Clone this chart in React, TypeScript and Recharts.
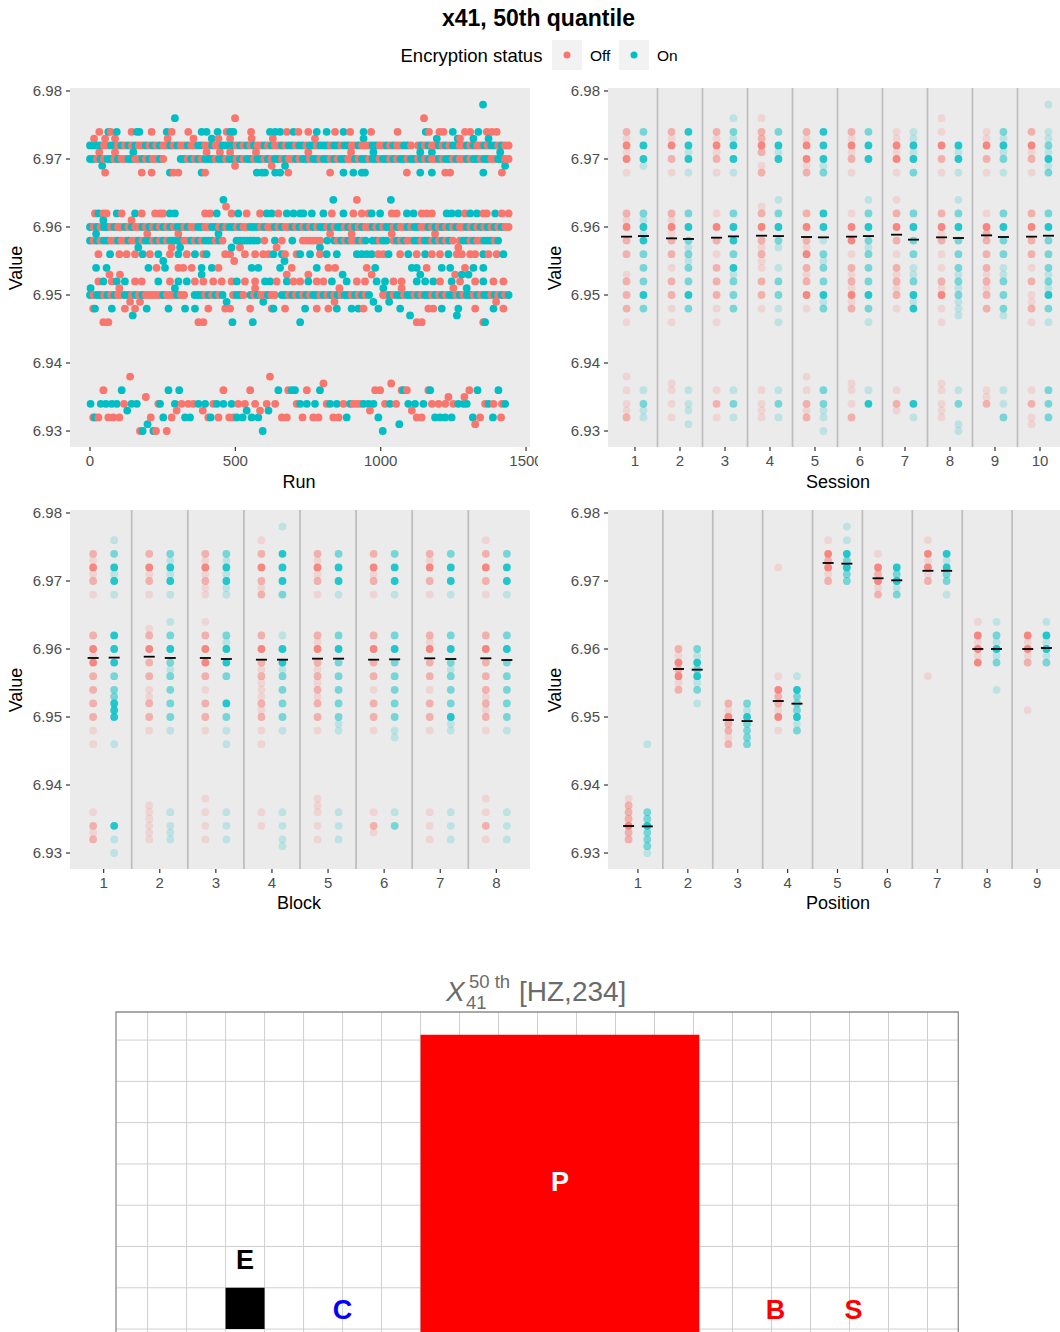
import React from 'react';
import { ScatterChart, Scatter, XAxis, YAxis, CartesianGrid, ReferenceLine, ReferenceArea } from 'recharts';

const RED = '#F8766D';
const TEAL = '#00BFC4';
const FONT = '"Liberation Sans", Arial, Helvetica, sans-serif';

// ---------------- Common axis settings ----------------
const Y_DOMAIN: [number, number] = [6.92765, 6.98044];
const Y_TICKS = [6.93, 6.94, 6.95, 6.96, 6.97, 6.98];
const RUN_TICKS = [0, 500, 1000, 1500];
const RUN_DOMAIN: [number, number] = [-68.8, 1513.6];
const SESSION_TICKS = [1, 2, 3, 4, 5, 6, 7, 8, 9, 10];
const BLOCK_TICKS = [1, 2, 3, 4, 5, 6, 7, 8];
const POSITION_TICKS = [1, 2, 3, 4, 5, 6, 7, 8, 9];

// ---------------- Run panel data ----------------
// sparse rows: [value, runs with encryption Off, runs with encryption On]
const RUN_SPARSE: [number, number[], number[]][] = [
  [6.978, [], [1352]],
  [6.976, [499, 1149], [292]],
  [6.974, [32, 71, 143, 212, 281, 338, 470, 554, 677, 717, 751, 843, 895, 967, 1058, 1166, 1202, 1216, 1290, 1308, 1365, 1382, 1399],
    [63, 92, 161, 170, 264, 384, 401, 439, 482, 493, 619, 637, 654, 700, 780, 814, 872, 941, 1155, 1248, 1336]],
  [6.973, [14, 52, 86, 267, 356, 442, 482, 556, 629, 774, 1273], [419, 941, 1193, 1265, 1319, 1371]],
  [6.971, [32, 86, 401, 447, 482, 571, 751, 898], [149, 975, 1136, 1176, 1411]],
  [6.969, [499, 625], [42, 671, 1428]],
  [6.968, [52, 178, 212, 287, 304, 396, 682, 826, 1090, 1222, 1239, 1417],
    [275, 384, 574, 591, 602, 637, 654, 872, 906, 935, 946, 1136, 1176, 1353]],
  [6.964, [918], [459, 837, 1035]],
  [6.963, [468], []],
  [6.962, [17, 46, 57, 109, 178, 224, 241, 252, 396, 413, 487, 539, 585, 648, 832, 906, 935, 958, 1038, 1055, 1141, 1158, 1176, 1290, 1353, 1365, 1417, 1440],
    [29, 92, 155, 275, 292, 436, 510, 608, 625, 677, 700, 723, 734, 763, 803, 872, 969, 998, 1090, 1113, 1227, 1244, 1267, 1308, 1331, 1394]],
  [6.961, [143], [46]],
  [6.959, [197, 304, 826, 900, 1038, 1187], [21, 442]],
  [6.957, [281, 516, 642, 1267], [166, 310, 487, 791]],
  [6.956, [29, 101, 126, 155, 206, 275, 333, 390, 465, 482, 533, 568, 596, 614, 671, 711, 791, 992, 1009, 1067, 1124, 1176, 1204, 1262, 1279, 1308, 1325, 1371, 1399],
    [69, 181, 235, 304, 361, 401, 631, 660, 723, 757, 814, 849, 918, 935, 952, 969, 1027, 1095, 1153, 1233, 1353, 1422]],
  [6.955, [496], [252, 669]],
  [6.954, [229, 304, 321, 350, 442, 694, 820, 843, 952, 1158, 1290],
    [21, 57, 201, 258, 384, 419, 556, 579, 654, 780, 981, 1107, 1124, 1210, 1239, 1319, 1353]],
  [6.953, [67, 103, 677, 751, 969, 1256], [384, 869, 1136, 1279, 1302]],
  [6.952, [29, 75, 155, 178, 275, 361, 390, 424, 453, 487, 533, 568, 642, 700, 723, 780, 803, 918, 946, 1044, 1072, 1204, 1273, 1325, 1388, 1422],
    [46, 92, 120, 235, 304, 333, 505, 602, 619, 677, 751, 832, 883, 986, 1015, 1124, 1153, 1181, 1244, 1353]],
  [6.951, [101, 568, 858, 1072, 1250], [2, 292, 1009, 1296]],
  [6.949, [138, 172, 841, 1397], [470, 596, 975, 1029]],
  [6.948, [11, 120, 155, 407, 465, 482, 551, 625, 671, 780, 820, 941, 1164, 1181, 1325, 1422],
    [17, 75, 195, 270, 327, 361, 631, 740, 849, 900, 923, 992, 1067, 1210, 1267, 1388]],
  [6.947, [], [147, 1101, 1262]],
  [6.946, [46, 63, 373, 390, 1124, 1141, 1353], [490, 560, 723, 1359]],
  [6.938, [138, 619], []],
  [6.937, [803, 1036], []],
  [6.936, [46, 459, 551, 682, 746, 981, 998, 1072, 1090, 1164, 1305], [109, 270, 307, 648, 694, 705, 791, 1078, 1170, 1333, 1405]],
  [6.935, [192, 1233, 1288], []],
  [6.934, [117, 235, 315, 338, 356, 424, 510, 533, 568, 608, 637, 711, 814, 872, 906, 918, 929, 1015, 1053, 1176, 1199, 1222, 1250, 1359, 1388, 1417],
    [2, 37, 55, 75, 92, 143, 161, 241, 292, 373, 396, 436, 459, 487, 723, 746, 774, 826, 849, 895, 941, 958, 975, 1032, 1095, 1118, 1147, 1267, 1285, 1296, 1371, 1428]],
  [6.933, [298, 388, 585, 963, 1107], [128, 539, 614]],
  [6.932, [11, 29, 63, 80, 101, 209, 281, 407, 442, 479, 493, 660, 677, 731, 768, 786, 837, 855, 1124, 1141, 1342, 1414],
    [17, 252, 327, 344, 415, 505, 525, 556, 579, 883, 992, 1187, 1204, 1222, 1244, 1317, 1386]],
  [6.931, [1325], [198, 1064]],
  [6.930, [172, 227, 264], [181, 218, 594, 1007]],
];

// dense rows: one character per block of 12 runs (r = Off, b = On, . = none)
const RUN_SLOT = 12;
const RUN_DENSE: [number, string][] = [
  [6.972, ['bbbbrrbbrb', 'rbrbrrbrbr', 'brrbrbrrbr', 'rbbrrbrrbb', 'bbrbrbrbrr', 'brbrrbrbbr', 'bbrbbrbbbr', 'bbrbbrrbrr', 'rbbrrbrbrr', 'bbr.rbrbrr', 'brbrbbrrbr', 'brrbrbbrbr', 'r'].join('')],
  [6.970, ['bbrbrbbrbr', 'rbbrrbrbrr', 'br....bbrb', 'rbrbbbrbbr', 'bbrbrbbrbb', 'rbrbbrbrrb', 'rbbrbbrbbr', 'brbbrrbrbb', 'rbbrbbrbrb', 'brbbrbrbrr', 'brbbrbrrbr', 'bbrbbrrbbr', 'r'].join('')],
  [6.960, ['brbrbbrbrr', 'brbrrbrbrb', 'rbrbrbbrbr', 'rbbrrbbrbr', 'bbrbrrbbbr', 'brrbrbrrbr', 'brbrbrbbrb', 'rbbrbrbrbr', 'rbrbrbbrbr', 'rbrbbrrbrb', 'rbrbrbrrbr', 'brbrbrbrbr', 'r'].join('')],
  [6.958, ['brbrbbrrbr', 'rbrrbrbbrb', 'rbrbbbbrrb', 'rbrbbbrbr.', '..bbbbbbb.', 'r..b.r..b.', '.rrrrrr.b.', 'brbrbrrbrb', '.bbrbb.rbr', 'brrbbrbbrb', 'rbrbr.rbbr', 'brrbbbrb..'].join('')],
  [6.950, ['brbbrbrbrr', 'bbrbrbrrrr', 'rbrrrbrr..', 'bbbrbrbrb.', '.rbbr.brbr', 'rbrr.bbrbr', 'brbrbbrbrb', 'rbrbbrbrbr', 'b...rrbrbb', 'rbbrbrbbrb', 'rbrbbrbrbb', 'rbrbbrbrbr', 'b'].join('')],
];

// ---------------- Category panels data ----------------
// "level:intensity" pairs, level = thousandths above 6.930, intensity 1 (faint) .. 3 (strong)
const SESSION_OFF = [
  '44:2 43:1 42:3 41:1 40:3 38:1 32:2 31:1 30:3 28:2 26:2 23:1 22:2 20:2 18:2 16:1 8:1 6:1 4:1 3:1 2:2',
  '44:2 43:1 42:3 40:2 38:1 32:2 31:1 30:3 29:1 28:2 26:2 24:1 22:2 20:2 18:1 16:1 7:1 6:1 4:1 2:1',
  '44:2 43:1 42:3 41:1 40:2 38:1 32:1 30:3 28:2 26:1 24:2 22:2 20:2 18:1 16:1 6:1 4:2 2:1',
  '46:1 44:2 43:2 42:3 41:2 39:1 38:2 33:1 32:2 30:3 28:2 27:1 26:2 25:1 24:1 22:2 20:2 18:1 6:1 4:1 3:1 2:1',
  '44:2 43:1 42:3 40:3 39:1 38:2 32:2 30:3 28:2 27:1 26:3 24:2 23:1 22:2 20:3 18:1 8:1 6:1 4:2 3:1 2:2',
  '44:2 43:1 42:3 41:1 40:2 38:1 32:1 30:3 28:3 26:1 24:2 23:1 22:2 21:1 20:3 19:1 18:2 7:1 6:1 4:1 2:2',
  '44:1 43:1 42:3 41:1 40:3 38:1 34:1 32:2 30:3 28:2 26:1 24:2 23:1 22:2 21:1 20:2 18:1 6:1 4:2 3:1',
  '46:1 44:1 42:3 40:2 38:1 32:2 30:3 29:1 28:2 26:1 24:1 22:2 21:1 20:3 18:1 16:1 7:1 6:1 4:1 3:1 2:1',
  '44:1 43:1 42:3 40:2 38:1 32:1 30:3 29:2 28:2 26:2 24:2 23:1 22:2 21:1 20:2 18:2 6:1 5:1 4:2',
  '44:2 42:3 41:1 40:2 38:1 32:2 30:3 28:2 26:2 24:1 22:2 20:1 19:1 18:2 16:1 6:1 4:2 2:1 1:1',
];
const SESSION_ON = [
  '44:2 42:3 40:3 39:1 32:2 31:1 30:3 29:1 28:3 26:2 24:2 22:2 20:3 18:2 6:1 4:2 3:1 2:1',
  '44:3 42:3 41:1 40:3 38:1 32:2 30:3 28:2 27:1 26:2 25:1 24:2 22:2 20:3 18:2 6:1 4:1 3:1 1:1',
  '46:1 44:2 43:1 42:3 40:3 38:1 32:2 30:3 28:3 26:2 24:3 23:1 22:2 20:2 18:2 6:1 4:2 2:1',
  '44:2 42:3 41:1 40:3 34:1 32:2 30:3 28:2 27:1 24:1 22:2 20:2 18:1 16:1 6:1 4:2 2:1',
  '44:3 42:3 40:3 39:1 38:2 32:3 30:3 28:1 26:2 25:1 24:2 22:2 20:3 19:1 18:2 6:2 4:2 3:1 2:1 0:1',
  '44:2 42:3 40:3 34:1 32:2 30:3 28:2 27:1 26:2 24:2 22:2 20:3 18:2 16:1 6:1 4:3',
  '44:1 43:1 42:3 41:1 40:3 38:2 32:2 30:3 28:2 26:2 24:1 23:1 22:2 20:3 19:1 18:3 4:3 2:1',
  '42:3 41:1 40:3 38:1 34:1 32:2 30:3 28:2 26:2 24:2 23:1 22:2 21:1 20:2 19:1 18:1 17:1 6:1 4:2 1:1 0:1',
  '44:2 43:1 42:3 41:1 40:2 38:1 32:2 30:3 28:2 26:2 24:1 23:1 22:2 20:2 18:2 17:1 6:1 4:1 2:2',
  '48:1 44:1 43:1 42:2 41:1 40:3 39:1 38:2 32:2 30:3 28:2 26:2 24:2 23:1 22:2 21:1 20:3 18:2 16:1 6:2 4:2 2:2',
];
const SESSION_MED_OFF = [6.95858, 6.95833, 6.95843, 6.95872, 6.95853, 6.95858, 6.95887, 6.95848, 6.95877, 6.95858];
const SESSION_MED_ON = [6.95867, 6.95824, 6.95862, 6.95867, 6.95848, 6.95867, 6.95814, 6.95838, 6.95853, 6.95872];

const BLOCK_OFF = [
  '44:2 43:1 42:3 41:1 40:2 38:1 32:2 30:3 29:1 28:3 26:2 24:2 22:2 20:2 18:1 16:1 6:1 4:2 3:1 2:2',
  '44:2 42:3 41:1 40:2 38:1 33:1 32:2 30:3 28:2 26:2 24:1 23:1 22:2 20:2 18:1 7:1 6:1 5:1 4:1 3:1 2:1',
  '44:2 43:1 42:3 41:1 40:2 39:1 38:1 34:1 32:2 30:3 28:3 26:2 24:1 22:2 20:2 18:1 8:1 6:1 4:1 2:1',
  '46:1 44:2 42:3 40:2 39:1 38:2 32:2 30:3 28:2 27:1 26:2 25:1 24:1 23:1 22:2 21:1 20:2 18:1 16:1 6:1 4:1',
  '44:2 43:1 42:3 41:1 40:2 38:1 32:2 31:1 30:3 28:2 27:1 26:2 25:1 24:2 23:1 22:2 20:2 18:1 8:1 7:1 6:1 4:1 2:1',
  '44:2 42:3 41:1 40:2 38:1 32:2 30:3 28:2 26:2 24:1 22:2 20:2 18:1 6:1 4:2 3:1',
  '44:2 43:1 42:3 40:2 38:1 32:2 31:1 30:3 28:2 26:2 24:1 22:2 20:2 18:1 6:1 4:1 2:1',
  '46:1 44:2 42:3 40:2 38:1 32:2 30:3 28:2 26:2 24:2 23:1 22:2 21:1 20:2 18:1 8:1 6:1 4:2 2:1',
];
const BLOCK_ON = [
  '46:1 44:2 42:3 41:1 40:3 38:1 32:3 30:3 28:3 26:2 24:2 23:2 22:3 21:3 20:3 16:1 4:3 2:1 0:1',
  '44:2 43:1 42:3 41:1 40:3 38:1 34:1 32:2 30:3 28:2 27:1 26:2 24:2 22:2 20:2 18:1 6:1 4:1 3:1 2:1',
  '44:2 43:1 42:3 41:1 40:3 39:1 38:1 32:2 31:1 30:3 28:3 26:2 22:3 20:2 18:1 16:1 6:1 4:1 2:1',
  '48:1 44:3 42:3 40:3 38:2 32:1 30:3 28:3 27:1 26:2 24:2 22:2 20:2 18:1 6:1 4:1 2:1 1:1',
  '44:2 42:3 40:3 38:1 32:2 30:3 28:2 26:2 24:2 22:2 20:2 19:1 18:1 6:1 4:1 2:1',
  '44:2 42:3 40:3 38:1 32:2 30:3 28:2 26:2 24:2 22:2 20:2 18:1 17:1 6:1 4:2',
  '44:2 42:3 40:3 38:1 32:2 30:3 28:2 27:1 26:2 24:2 22:2 20:3 19:1 18:1 6:1 4:1 2:1',
  '44:2 42:3 40:3 38:1 32:2 30:3 28:2 26:2 24:2 22:2 20:2 18:1 6:1 4:1 2:1',
];
const BLOCK_MED_OFF = [6.95868, 6.95887, 6.95868, 6.95843, 6.95858, 6.95843, 6.95863, 6.95863];
const BLOCK_MED_ON = [6.95873, 6.95868, 6.95853, 6.95843, 6.95858, 6.95848, 6.95853, 6.95838];

const POSITION_OFF = [
  '8:1 7:2 6:2 5:2 4:3 3:2 2:2',
  '30:2 29:1 28:3 27:2 26:3 25:1 24:2',
  '22:2 21:1 20:3 19:2 18:2 17:1 16:2',
  '42:1 26:1 24:3 23:2 22:2 21:1 20:3 18:1',
  '46:1 44:3 43:2 42:3 41:1 40:2',
  '44:1 42:3 41:2 40:3 39:1 38:2',
  '46:1 44:3 43:1 42:3 41:1 40:2 26:1',
  '34:1 32:3 31:1 30:3 29:1 28:3',
  '32:3 31:1 30:3 29:1 28:2 21:1',
];
const POSITION_ON = [
  '16:1 6:2 5:2 4:3 3:2 2:2 1:2 0:1',
  '30:2 29:1 28:3 27:2 26:3 25:1 24:2 22:1',
  '22:2 21:1 20:3 19:2 18:2 17:2 16:2',
  '26:1 24:3 23:2 22:2 21:2 20:3 19:1 18:2',
  '48:1 46:1 44:3 43:2 42:3 41:2 40:2',
  '42:3 41:2 40:3 39:1 38:2',
  '44:3 43:1 42:3 41:2 40:2 38:1',
  '34:1 32:2 31:1 30:3 29:1 28:2 24:1',
  '34:1 32:3 31:1 30:3 29:1 28:2',
];
const POSITION_MED_OFF = [6.93397, 6.95706, 6.94956, 6.95235, 6.97265, 6.97040, 6.97150, 6.96000, 6.96000];
const POSITION_MED_ON = [6.93392, 6.95696, 6.94940, 6.95196, 6.97255, 6.97010, 6.97150, 6.96000, 6.96015];

// ---------------- Bottom diagram data ----------------
const GRID_X = [0, 1, 2, 3, 4, 5, 6, 7, 8, 9, 10, 11, 12, 13, 14, 15, 16, 17, 18, 19, 20];
const GRID_Y = [0, 1, 2, 3, 4, 5, 6, 7];
const DIAG_X: [number, number] = [-0.81, 20.79];
const DIAG_Y: [number, number] = [-1.04, 7.68];
const CELLS = [
  { x1: 7, x2: 14.15, y1: -1.04, y2: 7.13, fill: '#FF0000' },
  { x1: 2, x2: 3, y1: 0, y2: 1, fill: '#000000' },
];
const LETTERS = [
  { x: 2.5, y: 1.69, t: 'E', c: '#000000' },
  { x: 5, y: 0.48, t: 'C', c: '#0000FF' },
  { x: 10.575, y: 3.57, t: 'P', c: '#FFFFFF' },
  { x: 16.1, y: 0.48, t: 'B', c: '#FF0000' },
  { x: 18.1, y: 0.48, t: 'S', c: '#FF0000' },
];

// ---------------- Builders ----------------
type Pt = { x: number; y: number; c: string; o: number };
const ALPHA = [0, 0.2, 0.5, 0.85];
const DODGE = 0.1875;

function buildRunPoints(): Pt[] {
  const pts: Pt[] = [];
  RUN_SPARSE.forEach(([v, off, on]) => {
    off.forEach((r) => pts.push({ x: r, y: v, c: 'r', o: 1 }));
    on.forEach((r) => pts.push({ x: r, y: v, c: 'b', o: 1 }));
  });
  RUN_DENSE.forEach(([v, s]) => {
    s.split('').forEach((ch, i) => {
      if (ch === 'r' || ch === 'b') pts.push({ x: i * RUN_SLOT, y: v, c: ch, o: 1 });
    });
  });
  return pts.sort((a, b) => a.x - b.x);
}

function parseLevels(s: string) {
  return s.trim().split(/\s+/).map((tok) => {
    const [a, b] = tok.split(':');
    return { y: 6.93 + Number(a) / 1000, n: Number(b) };
  });
}

function buildCatPoints(off: string[], on: string[]): Pt[] {
  const pts: Pt[] = [];
  off.forEach((s, i) => parseLevels(s).forEach((l) => pts.push({ x: i + 1 - DODGE, y: l.y, c: 'r', o: ALPHA[l.n] })));
  on.forEach((s, i) => parseLevels(s).forEach((l) => pts.push({ x: i + 1 + DODGE, y: l.y, c: 'b', o: ALPHA[l.n] })));
  return pts;
}

function buildMedians(off: number[], on: number[]) {
  const m: { x: number; y: number }[] = [];
  off.forEach((v, i) => m.push({ x: i + 1 - DODGE, y: v }));
  on.forEach((v, i) => m.push({ x: i + 1 + DODGE, y: v }));
  return m;
}

const runPts = buildRunPoints();

// ---------------- Shapes ----------------
const Dot = (p: any) => (
  <circle cx={p.cx} cy={p.cy} r={3.9} fill={p.payload.c === 'r' ? RED : TEAL} fillOpacity={p.payload.o} />
);
const Med = (p: any) => (
  <line x1={p.cx - 5.5} x2={p.cx + 5.5} y1={p.cy} y2={p.cy} stroke="#000" strokeWidth={1.8} />
);
const Letter = (p: any) => (
  <text x={p.cx} y={p.cy + 9.5} textAnchor="middle" fontSize={27} fontWeight="bold" fontFamily={FONT} fill={p.payload.c}>
    {p.payload.t}
  </text>
);

const tickStyle = { fill: '#4D4D4D', fontSize: 15, fontFamily: FONT };
const tickLine = { stroke: '#333333', strokeWidth: 1.2 };

function yAxis(width: number) {
  return (
    <YAxis
      type="number"
      dataKey="y"
      domain={Y_DOMAIN}
      ticks={Y_TICKS}
      allowDataOverflow
      interval={0}
      width={width}
      tick={tickStyle}
      tickLine={tickLine}
      axisLine={false}
      tickSize={4}
      tickMargin={4}
      tickFormatter={(v: number) => v.toFixed(2)}
    />
  );
}

function CatPanel(props: {
  left: number; top: number; chartW: number; yW: number; mr: number;
  ticks: number[]; pts: Pt[]; meds: { x: number; y: number }[];
}) {
  const { left, top, chartW, yW, mr, ticks, pts, meds } = props;
  const n = ticks.length;
  return (
    <div style={{ position: 'absolute', left, top }}>
      <ScatterChart width={chartW} height={500} margin={{ top: 88, right: mr, bottom: 33, left: 0 }}>
        <CartesianGrid horizontal={false} vertical={false} fill="#EBEBEB" stroke="none" />
        <XAxis
          type="number"
          dataKey="x"
          domain={[0.4, n + 0.6]}
          ticks={ticks}
          allowDataOverflow
          interval={0}
          height={20}
          tick={tickStyle}
          tickLine={tickLine}
          axisLine={false}
          tickSize={4}
          tickMargin={4}
        />
        {yAxis(yW)}
        {ticks.slice(0, n - 1).map((t) => (
          <ReferenceLine key={t} x={t + 0.5} stroke="#BDBDBD" strokeWidth={1.7} />
        ))}
        <Scatter data={pts} shape={Dot} isAnimationActive={false} />
        <Scatter data={meds} shape={Med} isAnimationActive={false} />
      </ScatterChart>
    </div>
  );
}

const sessionPts = buildCatPoints(SESSION_OFF, SESSION_ON);
const sessionMeds = buildMedians(SESSION_MED_OFF, SESSION_MED_ON);
const blockPts = buildCatPoints(BLOCK_OFF, BLOCK_ON);
const blockMeds = buildMedians(BLOCK_MED_OFF, BLOCK_MED_ON);
const positionPts = buildCatPoints(POSITION_OFF, POSITION_ON);
const positionMeds = buildMedians(POSITION_MED_OFF, POSITION_MED_ON);

export default function App() {
  return (
    <div style={{ position: 'absolute', left: 0, top: 0, width: 1060, height: 1332, overflow: 'hidden', background: '#fff', fontFamily: FONT }}>
      {/* Run panel */}
      <div style={{ position: 'absolute', left: 0, top: 0 }}>
        <ScatterChart width={538} height={500} margin={{ top: 88, right: 8, bottom: 33, left: 0 }}>
          <CartesianGrid horizontal={false} vertical={false} fill="#EBEBEB" stroke="none" />
          <XAxis
            type="number"
            dataKey="x"
            domain={RUN_DOMAIN}
            ticks={RUN_TICKS}
            allowDataOverflow
            interval={0}
            height={20}
            tick={tickStyle}
            tickLine={tickLine}
            axisLine={false}
            tickSize={4}
            tickMargin={4}
          />
          {yAxis(70)}
          <Scatter data={runPts} shape={Dot} isAnimationActive={false} />
        </ScatterChart>
      </div>

      <CatPanel left={530} top={0} chartW={540} yW={78} mr={3} ticks={SESSION_TICKS} pts={sessionPts} meds={sessionMeds} />
      <CatPanel left={0} top={422} chartW={538} yW={70} mr={8} ticks={BLOCK_TICKS} pts={blockPts} meds={blockMeds} />
      <CatPanel left={530} top={422} chartW={540} yW={78} mr={3} ticks={POSITION_TICKS} pts={positionPts} meds={positionMeds} />

      {/* Bottom diagram */}
      <div style={{ position: 'absolute', left: 0, top: 1000 }}>
        <ScatterChart width={1060} height={372} margin={{ top: 12, right: 101.7, bottom: 0, left: 116 }}>
          <XAxis type="number" dataKey="x" domain={DIAG_X} ticks={GRID_X} allowDataOverflow hide />
          <YAxis type="number" dataKey="y" domain={DIAG_Y} ticks={GRID_Y} allowDataOverflow hide />
          <CartesianGrid
            stroke="#CFCFCF"
            strokeWidth={1}
            verticalValues={GRID_X}
            horizontalValues={GRID_Y}
          />
          {CELLS.map((c, i) => (
            <ReferenceArea key={i} x1={c.x1} x2={c.x2} y1={c.y1} y2={c.y2} fill={c.fill} fillOpacity={1} stroke="none" ifOverflow="hidden" />
          ))}
          <ReferenceArea x1={DIAG_X[0]} x2={DIAG_X[1]} y1={DIAG_Y[0]} y2={DIAG_Y[1]} fill="none" fillOpacity={0} stroke="#8C8C8C" strokeWidth={1.3} />
          <Scatter data={LETTERS} shape={Letter} isAnimationActive={false} />
        </ScatterChart>
      </div>

      {/* Text overlay: titles, legend, axis titles */}
      <svg width={1060} height={1332} style={{ position: 'absolute', left: 0, top: 0, pointerEvents: 'none' }} fontFamily={FONT}>
        <text x={538.5} y={26} textAnchor="middle" fontSize={23} fontWeight="bold" fill="#000">x41, 50th quantile</text>

        <text x={400.5} y={61.5} fontSize={18.5} fill="#000">Encryption status</text>
        <rect x={552} y={40} width={30} height={30} fill="#F2F2F2" />
        <circle cx={567} cy={55} r={3.5} fill={RED} />
        <text x={590} y={61} fontSize={15.5} fill="#000">Off</text>
        <rect x={619} y={40} width={30} height={30} fill="#F2F2F2" />
        <circle cx={634} cy={55} r={3.5} fill={TEAL} />
        <text x={657} y={61} fontSize={15.5} fill="#000">On</text>

        <text x={299} y={488} textAnchor="middle" fontSize={18} fill="#000">Run</text>
        <text x={838} y={488} textAnchor="middle" fontSize={18} fill="#000">Session</text>
        <text x={299} y={909} textAnchor="middle" fontSize={18} fill="#000">Block</text>
        <text x={838} y={909} textAnchor="middle" fontSize={18} fill="#000">Position</text>
        <text transform="translate(22,268) rotate(-90)" textAnchor="middle" fontSize={18} fill="#000">Value</text>
        <text transform="translate(561,268) rotate(-90)" textAnchor="middle" fontSize={18} fill="#000">Value</text>
        <text transform="translate(22,690) rotate(-90)" textAnchor="middle" fontSize={18} fill="#000">Value</text>
        <text transform="translate(561,690) rotate(-90)" textAnchor="middle" fontSize={18} fill="#000">Value</text>

        <text x={446} y={1001} fontSize={28} fontStyle="italic" fill="#6B6B6B">X</text>
        <text x={469} y={988} fontSize={18.5} fill="#6B6B6B">50 th</text>
        <text x={466} y={1009} fontSize={18.5} fill="#6B6B6B">41</text>
        <text x={519} y={1001} fontSize={28} fill="#6B6B6B">[HZ,234]</text>
      </svg>
    </div>
  );
}
